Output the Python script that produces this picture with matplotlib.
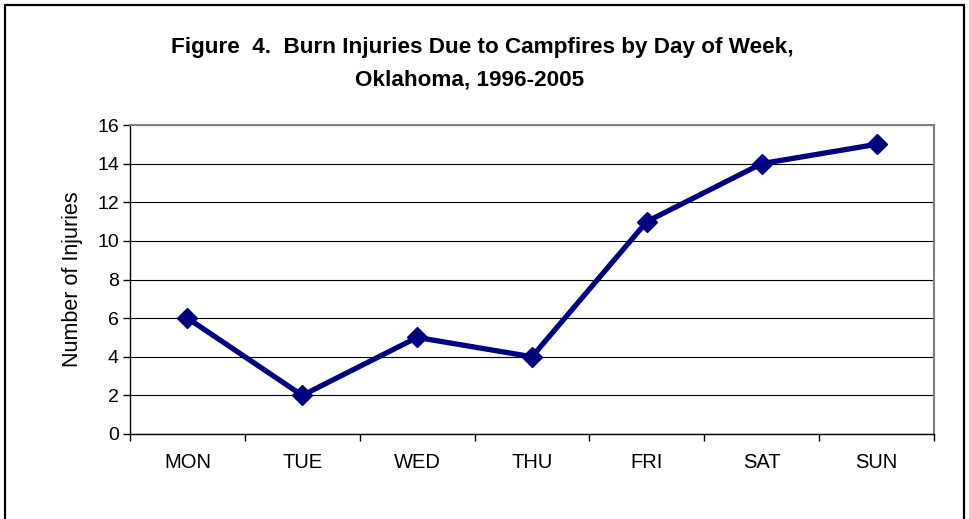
import matplotlib
matplotlib.use("Agg")
import matplotlib.pyplot as plt
from matplotlib.patches import Rectangle

# data
days = ["MON", "TUE", "WED", "THU", "FRI", "SAT", "SUN"]
injuries = [6, 2, 5, 4, 11, 14, 15]
yticks = [0, 2, 4, 6, 8, 10, 12, 14, 16]

plt.rcParams['font.family'] = ['Liberation Sans', 'DejaVu Sans']

fig = plt.figure(figsize=(9.69, 5.19), dpi=100)
ax = fig.add_axes([130/969, 1-434/519, 804/969, 309/519])

x = list(range(len(days)))
ax.plot(x, injuries, color='#000080', lw=3.8, marker='D', ms=10,
        mfc='#000080', mec='#000080', zorder=3)

ax.set_xlim(-0.5, len(days)-0.5)
ax.set_ylim(0, 16)
ax.set_yticks(yticks)
ax.set_xticks(x)
ax.set_xticklabels(days, fontsize=14.5)
ax.tick_params(axis='x', length=0, pad=14)
# tick marks between categories
ax.set_xticks([i-0.5 for i in range(len(days)+1)], minor=True)
ax.tick_params(axis='x', which='minor', length=5, width=1, direction='out')
ax.tick_params(axis='y', labelsize=14, length=5, width=1, direction='out', pad=3)
ax.grid(axis='y', color='black', lw=0.8)
ax.set_axisbelow(True)

for s in ['top', 'right']:
    ax.spines[s].set_color('#808080')
    ax.spines[s].set_linewidth(1.5)
for s in ['left', 'bottom']:
    ax.spines[s].set_color('black')
    ax.spines[s].set_linewidth(1)

ax.set_ylabel("Number of Injuries", fontsize=15.5, labelpad=10)

fig.text(482/969, 1-48/519, "Figure  4.  Burn Injuries Due to Campfires by Day of Week,",
         ha='center', va='center', fontsize=16.2, fontweight='bold')
fig.text(470/969, 1-80/519, "Oklahoma, 1996-2005",
         ha='center', va='center', fontsize=16.2, fontweight='bold')

# outer frame
fig.patches.append(Rectangle((5/969, -0.01), 959/969, 1-5/519+0.01,
                             transform=fig.transFigure, fill=False,
                             ec='black', lw=1.6))

fig.savefig("out.png", dpi=100)
